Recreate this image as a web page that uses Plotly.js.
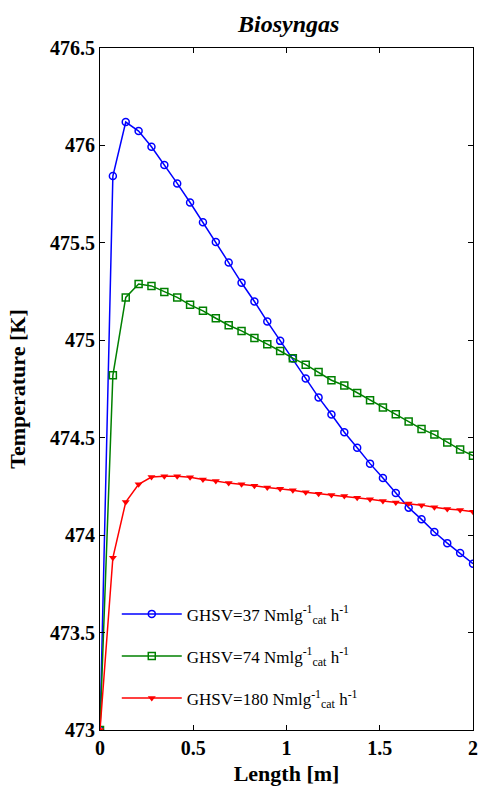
<!DOCTYPE html>
<html>
<head>
<meta charset="utf-8">
<script src="https://cdn.plot.ly/plotly-3.0.1.min.js"></script>
<style>html,body{margin:0;padding:0;background:#fff;}#chart{width:478px;height:786px;}</style>
</head>
<body>
<div id="chart"></div>
<script>
// 30 points from 0 to 2 m (29 equal steps)
const lengthM = [0,0.069,0.138,0.207,0.276,0.345,0.414,0.483,0.552,0.621,0.690,0.759,0.828,0.897,0.966,1.034,1.103,1.172,1.241,1.310,1.379,1.448,1.517,1.586,1.655,1.724,1.793,1.862,1.931,2.0];
const tempGHSV37 = [473.0,475.843,476.12,476.074,475.993,475.90,475.805,475.707,475.606,475.504,475.399,475.295,475.199,475.096,474.997,474.906,474.804,474.707,474.619,474.528,474.449,474.367,474.293,474.216,474.141,474.081,474.016,473.959,473.908,473.853];
const tempGHSV74 = [473.0,474.82,475.22,475.289,475.279,475.248,475.22,475.182,475.151,475.113,475.077,475.048,475.012,474.98,474.945,474.908,474.875,474.837,474.795,474.768,474.730,474.692,474.655,474.62,474.583,474.545,474.516,474.476,474.439,474.408];
const tempGHSV180 = [473.0,473.884,474.17,474.261,474.298,474.302,474.302,474.297,474.285,474.278,474.267,474.261,474.253,474.245,474.238,474.23,474.22,474.213,474.206,474.201,474.192,474.184,474.175,474.168,474.162,474.154,474.143,474.134,474.129,474.12];
const seriesNames = [
  'GHSV=37 Nmlg<sup>-1</sup><sub>cat</sub> h<sup>-1</sup>',
  'GHSV=74 Nmlg<sup>-1</sup><sub>cat</sub> h<sup>-1</sup>',
  'GHSV=180 Nmlg<sup>-1</sup><sub>cat</sub> h<sup>-1</sup>'
];
const xTicks = [0,0.5,1,1.5,2];
const xTickText = ['0','0.5','1','1.5','2'];
const yTicks = [473,473.5,474,474.5,475,475.5,476,476.5];
const yTickText = ['473','473.5','474','474.5','475','475.5','476','476.5'];

const serif = 'Liberation Serif, Times New Roman, serif';
const bold = a => a.map(t => '<b>' + t + '</b>');
const traces = [
  {x:lengthM, y:tempGHSV37, name:seriesNames[0], legendgroup:'a', mode:'lines+markers',
   line:{color:'#0000ff', width:1.5},
   marker:{symbol:'circle-open', size:7, color:'#0000ff', line:{width:1.5}}},
  {x:lengthM, y:tempGHSV74, name:seriesNames[1], legendgroup:'b', mode:'lines+markers',
   line:{color:'#008000', width:1.5},
   marker:{symbol:'square-open', size:7, color:'#008000', line:{width:1.5}}},
  {x:lengthM, y:tempGHSV180, name:seriesNames[2], legendgroup:'c', mode:'lines+markers',
   line:{color:'#ff0000', width:1.5},
   marker:{symbol:'triangle-down', size:7, color:'#ff0000'}}
];
const layout = {
  width:478, height:786,
  margin:{l:100, r:5, t:48, b:56},
  paper_bgcolor:'#fff', plot_bgcolor:'#fff',
  showlegend:true,
  title:{text:'<b><i>Biosyngas</i></b>', font:{family:serif, size:24, color:'#000'}, x:0.604, xanchor:'center', y:0.970, yanchor:'middle'},
  xaxis:{range:[0,2], tickvals:xTicks, ticktext:bold(xTickText), ticks:'inside', ticklen:5, tickwidth:1, tickcolor:'#000',
    showline:true, linecolor:'#000', linewidth:1, mirror:'ticks', showgrid:false, zeroline:false,
    tickfont:{family:serif, size:20, color:'#000', weight:'bold'},
    title:{text:'<b>Length [m]</b>', font:{family:serif, size:22, color:'#000'}, standoff:9}},
  yaxis:{range:[473,476.5], tickvals:yTicks, ticktext:bold(yTickText), ticks:'inside', ticklen:5, tickwidth:1, tickcolor:'#000',
    showline:true, linecolor:'#000', linewidth:1, mirror:'ticks', showgrid:false, zeroline:false,
    tickfont:{family:serif, size:20, color:'#000', weight:'bold'},
    title:{text:'<b>Temperature [K]</b>', font:{family:serif, size:22, color:'#000'}, standoff:18}},
  legend:{x:0.045, y:0.196, xanchor:'left', yanchor:'top', bgcolor:'rgba(0,0,0,0)',
    font:{family:serif, size:17, color:'#000'}, itemwidth:60, tracegroupgap:17}
};
Plotly.newPlot('chart', traces, layout, {displayModeBar:false, staticPlot:true});
</script>
</body>
</html>
